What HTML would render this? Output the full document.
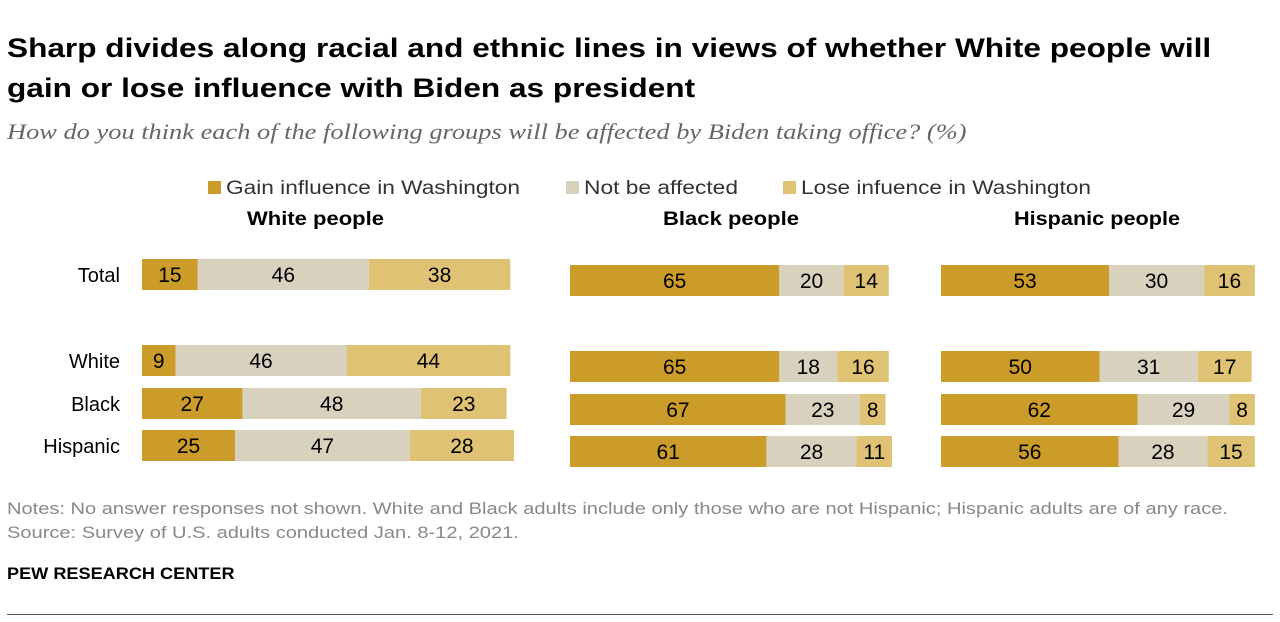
<!DOCTYPE html>
<html><head><meta charset="utf-8"><style>
body{margin:0;width:1280px;height:622px;background:#fff;font-family:"Liberation Sans",sans-serif;position:relative;overflow:hidden}
.t{position:absolute;white-space:nowrap;transform-origin:0 0}
</style></head><body>
<div class="t" style="left:7px;top:28px;font-size:27px;font-weight:bold;line-height:40px;color:#000;transform:scaleX(1.17)">Sharp divides along racial and ethnic lines in views of whether White people will<br>gain or lose influence with Biden as president</div>
<div class="t" style="left:7px;top:119px;font-family:'Liberation Serif',serif;font-style:italic;font-size:22px;color:#666;transform:scaleX(1.2)">How do you think each of the following groups will be affected by Biden taking office? (%)</div>
<svg id="chart" width="1280" height="622" style="position:absolute;left:0;top:0"></svg>
<div class="t" style="left:7px;top:497px;font-size:17px;line-height:24px;color:#888;transform:scaleX(1.18)">Notes: No answer responses not shown. White and Black adults include only those who are not Hispanic; Hispanic adults are of any race.<br>Source: Survey of U.S. adults conducted Jan. 8-12, 2021.</div>
<div class="t" style="left:7px;top:564px;font-size:17px;font-weight:bold;color:#000;transform:scaleX(1.066)">PEW RESEARCH CENTER</div>
<div style="position:absolute;left:7px;top:614px;width:1266px;height:1px;background:#555"></div>
<script>
const categories=["Total","White","Black","Hispanic"];
const panels=["White people","Black people","Hispanic people"];
const seriesNames=["Gain influence in Washington","Not be affected","Lose infuence in Washington"];
const gainWhite=[15,9,27,25],notWhite=[46,46,48,47],loseWhite=[38,44,23,28];
const gainBlack=[65,65,67,61],notBlack=[20,18,23,28],loseBlack=[14,16,8,11];
const gainHisp=[53,50,62,56],notHisp=[30,31,29,28],loseHisp=[16,17,8,15];
const data=[[gainWhite,notWhite,loseWhite],[gainBlack,notBlack,loseBlack],[gainHisp,notHisp,loseHisp]];
const colors=["#CC9C2B","#D7D1BE","#E0C275"];
const NS="http://www.w3.org/2000/svg";
const svg=document.getElementById('chart');
function mk(tag,attrs,txt){const e=document.createElementNS(NS,tag);for(const k in attrs)e.setAttribute(k,attrs[k]);if(txt!=null)e.textContent=txt;svg.appendChild(e);return e;}
const px=[{x0:142,s:3.72,dy:0,tx:247,tw:137},{x0:570,s:3.22,dy:6,tx:663,tw:136},{x0:941,s:3.17,dy:6,tx:1014,tw:166}];
const rowY=[259,345,388,430];
const legX=[208,566,783];
const legW=[294,154,290];
seriesNames.forEach((n,i)=>{
 const r=mk('rect',{x:legX[i],y:181,width:13,height:13,fill:colors[i]});
 
 
 const t=mk('text',{x:legX[i]+18,y:194,'font-size':19,fill:'#333',textLength:legW[i],lengthAdjust:'spacingAndGlyphs'},n);
 
 
});
categories.forEach((c,j)=>{
 const t=mk('text',{x:120,y:rowY[j]+23,'font-size':20,'text-anchor':'end',fill:'#000'},c);
 
 
});
panels.forEach((p,i)=>{
 const P=px[i];
 const h=mk('text',{x:P.tx,y:225,'font-size':19,'font-weight':'bold',fill:'#000',textLength:P.tw,lengthAdjust:'spacingAndGlyphs'},p);
 
 
 categories.forEach((c,j)=>{
  let x=P.x0;const y=rowY[j]+P.dy;
  for(let k=0;k<3;k++){
   const v=data[i][k][j];const w=v*P.s;
   const r=mk('rect',{x:x,y:y,width:w,height:31,fill:colors[k]});
   
   
   const t=mk('text',{x:x+w/2,y:y+23,'font-size':21,'text-anchor':'middle',fill:'#000'},v);
   
   
   x+=w;
  }
 });
});
</script>
</body></html>
